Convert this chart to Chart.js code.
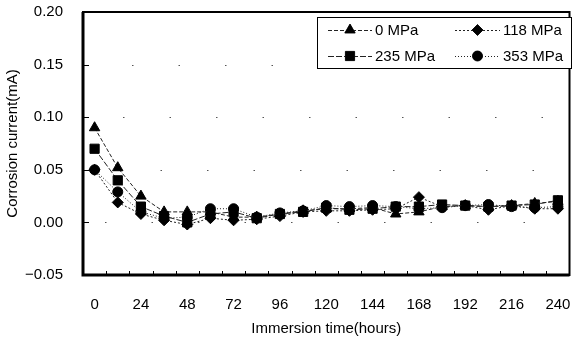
<!DOCTYPE html>
<html>
<head>
<meta charset="utf-8">
<script src="https://cdn.jsdelivr.net/npm/chart.js@4.4.1/dist/chart.umd.min.js"></script>
<style>
  html, body { margin: 0; padding: 0; background: #fff; }
  #wrap { width: 577px; height: 338px; }
</style>
</head>
<body>
<div id="wrap"><canvas id="corrosionChart" width="577" height="338"></canvas></div>
<script>
const hours = [0, 12, 24, 36, 48, 60, 72, 84, 96, 108, 120, 132, 144, 156, 168, 180, 192, 204, 216, 228, 240];
const yTicks = [-0.05, 0, 0.05, 0.10, 0.15, 0.20];

const mpa0   = [0.090, 0.052, 0.025, 0.010, 0.010, 0.010, 0.005, 0.005, 0.008, 0.011, 0.013, 0.013, 0.014, 0.008, 0.010, 0.015, 0.016, 0.015, 0.016, 0.018, 0.020];
const mpa118 = [0.050, 0.019, 0.008, 0.002, -0.002, 0.004, 0.002, 0.003, 0.006, 0.010, 0.011, 0.011, 0.012, 0.013, 0.024, 0.015, 0.016, 0.012, 0.016, 0.013, 0.013];
const mpa235 = [0.070, 0.040, 0.015, 0.006, 0.000, 0.008, 0.010, 0.004, 0.008, 0.010, 0.014, 0.012, 0.013, 0.015, 0.015, 0.017, 0.016, 0.015, 0.016, 0.017, 0.021];
const mpa353 = [0.050, 0.029, 0.010, 0.004, 0.005, 0.013, 0.013, 0.005, 0.009, 0.011, 0.016, 0.015, 0.016, 0.015, 0.013, 0.014, 0.016, 0.017, 0.015, 0.014, 0.015];

const FONT = "'Liberation Sans', Arial, sans-serif";

function series(label, data, style, radius, dash) {
  return {
    label, data,
    borderColor: '#222',
    backgroundColor: '#000',
    borderWidth: 1,
    borderDash: dash,
    pointStyle: style,
    pointRadius: radius,
    pointHoverRadius: radius,
    pointBackgroundColor: '#000',
    pointBorderColor: '#000',
    pointBorderWidth: 1,
    tension: 0,
    fill: false
  };
}

// sparse dotted gridlines, drawn under the data
const gridPlugin = {
  id: 'dotGrid',
  beforeDatasetsDraw(chart) {
    const { ctx, chartArea: a, scales } = chart;
    ctx.save();
    ctx.strokeStyle = '#555';
    ctx.lineWidth = 1;
    ctx.setLineDash([1.5, 45]);
    yTicks.slice(1, -1).forEach((v, i) => {
      const y = Math.round(scales.y.getPixelForValue(v)) + 0.5;
      ctx.lineDashOffset = -(22 + i * 9);
      ctx.beginPath();
      ctx.moveTo(a.left, y);
      ctx.lineTo(a.right, y);
      ctx.stroke();
    });
    ctx.restore();
  }
};

// frame + inward tick marks
const framePlugin = {
  id: 'frame',
  afterDraw(chart) {
    const { ctx, chartArea: a, scales } = chart;
    ctx.save();
    ctx.strokeStyle = '#000';
    ctx.lineWidth = 1;
    ctx.setLineDash([]);
    yTicks.forEach(v => {
      const y = Math.round(scales.y.getPixelForValue(v)) + 0.5;
      ctx.beginPath();
      ctx.moveTo(a.left, y);
      ctx.lineTo(a.left + 6, y);
      ctx.stroke();
    });
    const step = (a.right - a.left) / hours.length;
    for (let i = 1; i < hours.length; i++) {
      const x = Math.round(a.left + i * step) + 0.5;
      ctx.beginPath();
      ctx.moveTo(x, a.bottom);
      ctx.lineTo(x, a.bottom - 4);
      ctx.stroke();
    }
    ctx.lineWidth = 2;
    ctx.strokeRect(a.left, a.top, a.right - a.left, a.bottom - a.top);
    ctx.lineWidth = 3;
    ctx.beginPath();
    ctx.moveTo(a.left, a.top);
    ctx.lineTo(a.left, a.bottom);
    ctx.lineTo(a.right, a.bottom);
    ctx.stroke();
    ctx.restore();
  }
};

// boxed legend in the top right corner
const legendBoxPlugin = {
  id: 'legendBox',
  afterDraw(chart) {
    const { ctx } = chart;
    const box = { x: 317, y: 17, w: 254, h: 51 };
    ctx.save();
    ctx.fillStyle = '#fff';
    ctx.fillRect(box.x, box.y, box.w, box.h);
    ctx.strokeStyle = '#000';
    ctx.lineWidth = 1;
    ctx.strokeRect(box.x + 0.5, box.y + 0.5, box.w, box.h);
    const spots = [
      { x0: 328, x1: 372, y: 30 },
      { x0: 455, x1: 500, y: 30 },
      { x0: 328, x1: 372, y: 56 },
      { x0: 455, x1: 500, y: 56 }
    ];
    chart.data.datasets.forEach((ds, i) => {
      const s = spots[i];
      ctx.strokeStyle = '#222';
      ctx.lineWidth = 1;
      ctx.setLineDash(ds.borderDash || []);
      ctx.beginPath();
      ctx.moveTo(s.x0, s.y + 0.5);
      ctx.lineTo(s.x1, s.y + 0.5);
      ctx.stroke();
      ctx.setLineDash([]);
      ctx.fillStyle = '#000';
      Chart.helpers.drawPoint(ctx, {
        pointStyle: ds.pointStyle, radius: ds.pointRadius, rotation: 0, borderWidth: 1
      }, (s.x0 + s.x1) / 2, s.y);
      ctx.fill();
      ctx.font = '15px ' + FONT;
      ctx.textBaseline = 'middle';
      ctx.textAlign = 'left';
      ctx.fillText(ds.label, s.x1 + 3, s.y + 1);
    });
    ctx.restore();
  }
};

new Chart(document.getElementById('corrosionChart').getContext('2d'), {
  type: 'line',
  data: {
    labels: hours,
    datasets: [
      series('0 MPa', mpa0, 'triangle', 6, [4, 2]),
      series('118 MPa', mpa118, 'rectRot', 5.5, [2, 2]),
      series('235 MPa', mpa235, 'rect', 6.5, [6, 2]),
      series('353 MPa', mpa353, 'circle', 5, [1, 2])
    ]
  },
  options: {
    responsive: false,
    animation: false,
    layout: { padding: { left: 0, right: 4, top: 12, bottom: 0 } },
    plugins: {
      legend: { display: false },
      tooltip: { enabled: false }
    },
    scales: {
      x: {
        type: 'category',
        offset: true,
        grid: { display: false, drawTicks: false },
        border: { display: false },
        ticks: {
          autoSkip: false,
          maxRotation: 0,
          padding: 21,
          color: '#000',
          font: { family: FONT, size: 15 },
          callback(v, i) { return i % 2 === 0 ? String(hours[i]) : ''; }
        },
        title: {
          display: true,
          text: 'Immersion time(hours)',
          color: '#000',
          font: { family: FONT, size: 15 },
          padding: { top: 0, bottom: 0 }
        },
        afterFit(scale) {
          scale.height = 63;
          scale.paddingLeft = 0;
          scale.paddingRight = 0;
        }
      },
      y: {
        min: -0.05,
        max: 0.20,
        grid: { display: false, drawTicks: false },
        border: { display: false },
        ticks: {
          stepSize: 0.05,
          padding: 20,
          color: '#000',
          font: { family: FONT, size: 15 },
          callback(v) { return v < 0 ? '\u2212' + Math.abs(v).toFixed(2) : v.toFixed(2); }
        },
        title: {
          display: true,
          text: 'Corrosion current(mA)',
          color: '#000',
          font: { family: FONT, size: 15 },
          padding: { top: 4, bottom: 0 }
        },
        afterFit(scale) {
          scale.width = 83;
          scale.paddingTop = 0;
          scale.paddingBottom = 0;
        }
      }
    }
  },
  plugins: [gridPlugin, framePlugin, legendBoxPlugin]
});
</script>
</body>
</html>
